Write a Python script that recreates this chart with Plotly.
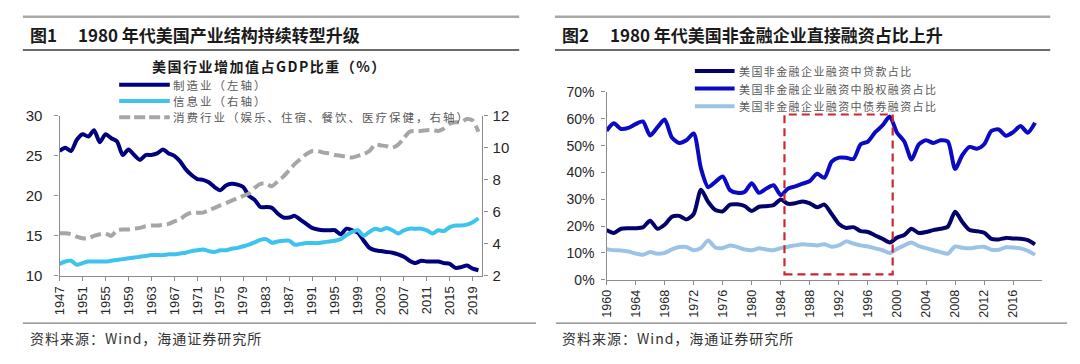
import plotly.graph_objects as go

W, H = 1080, 364

# ---------------- Chart 1 data ----------------
years1 = list(range(1947, 2021))
manufacturing = [25.6, 26.0, 25.6, 27.0, 27.7, 27.4, 28.2, 26.7, 27.7, 27.2,
                 26.8, 25.1, 25.8, 25.1, 24.5, 25.1, 25.1, 25.3, 25.8, 25.3,
                 25.0, 24.3, 23.3, 22.6, 22.1, 22.0, 21.7, 21.1, 20.7, 21.3,
                 21.5, 21.4, 21.1, 20.0, 19.5, 18.6, 18.6, 18.5, 17.8, 17.3,
                 17.3, 17.5, 17.0, 16.5, 16.0, 15.8, 15.7, 15.7, 15.7, 15.2,
                 15.9, 15.7, 15.4, 14.4, 13.5, 13.2, 13.1, 13.0, 12.9, 12.7,
                 12.4, 11.9, 11.6, 11.9, 11.8, 11.8, 11.8, 11.6, 11.5, 11.0,
                 11.1, 11.3, 10.9, 10.7]
information = [2.75, 2.9, 2.95, 2.7, 2.8, 2.9, 2.9, 2.9, 2.9, 2.95,
               3.0, 3.05, 3.1, 3.15, 3.2, 3.25, 3.3, 3.3, 3.3, 3.35,
               3.35, 3.4, 3.45, 3.55, 3.6, 3.65, 3.55, 3.5, 3.6, 3.6,
               3.7, 3.75, 3.85, 3.95, 4.1, 4.25, 4.3, 4.07, 4.15, 4.2,
               4.2, 3.95, 4.0, 4.05, 4.05, 4.05, 4.1, 4.15, 4.2, 4.3,
               4.55, 4.75, 4.85, 4.5, 4.75, 4.95, 4.85, 5.0, 4.85, 4.65,
               4.85, 4.95, 4.95, 4.95, 4.85, 4.65, 4.85, 4.8, 5.05, 5.15,
               5.15, 5.2, 5.35, 5.6]
consumer = [4.66, 4.66, 4.6, 4.45, 4.35, 4.35, 4.5, 4.6, 4.65, 4.5,
            4.85, 4.9, 4.9, 4.95, 5.0, 5.1, 5.15, 5.15, 5.2, 5.25,
            5.4, 5.55, 5.8, 5.95, 5.95, 5.95, 6.1, 6.25, 6.4, 6.55,
            6.7, 6.85, 7.0, 7.15, 7.5, 7.75, 7.75, 7.6, 7.9, 8.2,
            8.6, 9.0, 9.3, 9.6, 9.8, 9.8, 9.7, 9.65, 9.55, 9.5,
            9.45, 9.4, 9.5, 9.6, 9.8, 10.2, 10.15, 10.1, 10.0, 10.2,
            10.6, 11.0, 11.05, 11.05, 11.1, 11.1, 11.05, 11.2, 11.5, 11.6,
            11.6, 11.8, 11.7, 11.0]
names1 = ["制造业（左轴）", "信息业（右轴）", "消费行业（娱乐、住宿、餐饮、医疗保健，右轴）"]
xticks1 = list(range(1947, 2020, 4))
left_ticks1 = [10, 15, 20, 25, 30]
right_ticks1 = [2, 4, 6, 8, 10, 12]

# ---------------- Chart 2 data ----------------
years2 = list(range(1960, 2020))
loan = [18.5, 17.4, 19.0, 19.2, 19.2, 19.5, 22.0, 19.0, 20.5, 23.5,
        23.8, 22.5, 24.5, 33.5, 29.0, 26.0, 25.5, 28.0, 28.1, 27.5,
        25.6, 27.2, 27.4, 27.8, 29.9, 28.3, 28.5, 29.2, 28.5, 27.0,
        28.0, 24.5, 20.8, 19.3, 19.6, 18.1, 17.8, 16.5, 15.3, 13.9,
        15.7, 16.7, 19.0, 17.4, 17.8, 18.5, 19.0, 19.8, 25.3, 21.5,
        18.5, 18.1, 17.5, 15.2, 15.0, 15.6, 15.4, 15.3, 14.8, 13.2]
equity = [55.5, 58.3, 56.2, 56.6, 58.0, 59.0, 53.8, 56.8, 59.7, 53.0,
          51.0, 52.0, 54.5, 41.5, 34.5, 36.5, 38.5, 33.4, 32.4, 32.7,
          36.0, 32.4, 34.0, 35.2, 31.5, 34.0, 34.8, 35.8, 36.8, 39.5,
          38.0, 44.0, 45.5, 45.5, 45.0, 50.5, 51.5, 55.0, 57.5, 60.8,
          54.8, 51.5, 44.8, 50.5, 52.0, 51.0, 52.0, 51.5, 41.3, 46.5,
          49.5, 48.8, 50.5, 55.5, 56.0, 53.7, 55.0, 57.3, 54.8, 58.5]
bond = [11.4, 11.0, 10.9, 10.5, 9.8, 9.3, 10.3, 9.7, 10.0, 11.3,
        12.2, 12.2, 11.0, 11.8, 14.6, 12.0, 11.8, 12.8, 12.2, 11.3,
        11.0, 11.7, 11.3, 11.0, 11.8, 12.3, 12.8, 13.2, 13.0, 12.8,
        13.2, 12.3, 12.8, 14.3, 13.5, 12.8, 12.4, 11.7, 11.0, 10.0,
        11.5, 12.8, 13.9, 12.5, 11.8, 11.0, 10.3, 9.7, 12.4, 11.9,
        11.7, 12.1, 12.3, 11.2, 11.2, 12.1, 12.0, 11.7, 10.8, 9.3]
names2 = ["美国非金融企业融资中贷款占比", "美国非金融企业融资中股权融资占比", "美国非金融企业融资中债券融资占比"]
xticks2 = list(range(1960, 2017, 4))
yticks2 = [0, 10, 20, 30, 40, 50, 60, 70]
box_years = [1984.5, 1999.4]
box_pct = [2, 61.6]

# ---------------- styles ----------------
CJK = "Noto Sans CJK SC, Liberation Sans, sans-serif"
NUM = "Liberation Sans, Arial, sans-serif"
c_manu, c_info, c_cons = "#00007E", "#3EC3EE", "#A6A6A6"
c_loan, c_eq, c_bond = "#03036A", "#0A0AC4", "#9CC3E6"
axis_col = "#8C8C8C"


def px(x):
    return x / W


def py(y):
    return 1 - y / H


def line(x, y, name, color, xa, ya, dash=None):
    return go.Scatter(x=x, y=y, name=name, mode="lines", xaxis=xa, yaxis=ya, showlegend=False,
                      line=dict(color=color, width=4, dash=dash, shape="spline", smoothing=0.7))


fig = go.Figure()
fig.add_trace(line(years1, manufacturing, names1[0], c_manu, "x", "y"))
fig.add_trace(line(years1, information, names1[1], c_info, "x", "y2"))
fig.add_trace(line(years1, consumer, names1[2], c_cons, "x", "y2", dash="11px,5px"))
fig.add_trace(line(years2, bond, names2[2], c_bond, "x2", "y3"))
fig.add_trace(line(years2, equity, names2[1], c_eq, "x2", "y3"))
fig.add_trace(line(years2, loan, names2[0], c_loan, "x2", "y3"))

axis_common = dict(showgrid=False, zeroline=False, showline=True, linecolor=axis_col, linewidth=1.3,
                   ticks="outside", ticklen=4, tickcolor=axis_col, tickwidth=1.2)

fig.update_layout(
    width=W, height=H, margin=dict(l=0, r=0, t=0, b=0),
    paper_bgcolor="white", plot_bgcolor="white",
    xaxis=dict(domain=[px(52), px(478)], range=[1947, 2020.7], tickvals=xticks1,
               ticktext=[str(v) for v in xticks1], tickangle=-90,
               tickfont=dict(family=NUM, size=13, color="#262626"), anchor="y", **axis_common),
    yaxis=dict(domain=[py(280), py(112)], range=[10, 30], tickvals=left_ticks1, ticklabelstandoff=9,
               tickfont=dict(family=NUM, size=15, color="#262626"), anchor="x", **axis_common),
    yaxis2=dict(domain=[py(280), py(112)], range=[2, 12], tickvals=right_ticks1, overlaying="y",
                side="right", anchor="x", ticklabelstandoff=2,
                tickfont=dict(family=NUM, size=15, color="#262626"), **axis_common),
    xaxis2=dict(domain=[px(603), px(1042)], range=[1960, 2020], tickvals=xticks2,
                ticktext=[str(v) for v in xticks2], tickangle=-90,
                tickfont=dict(family=NUM, size=12.5, color="#262626"), anchor="y3", **axis_common),
    yaxis3=dict(domain=[py(284), py(87)], range=[0, 70], tickvals=yticks2, ticklabelstandoff=4,
                ticktext=[f"{v}%" for v in yticks2],
                tickfont=dict(family=NUM, size=14, color="#262626"), anchor="x2", **axis_common),
)

shapes = []
for x0, x1 in [(15, 515), (551, 1050)]:
    shapes.append(dict(type="line", xref="paper", yref="paper", x0=px(x0), x1=px(x1),
                       y0=py(8), y1=py(8), line=dict(color="#A8A8A8", width=2.5)))
    shapes.append(dict(type="line", xref="paper", yref="paper", x0=px(x0), x1=px(x1),
                       y0=py(43), y1=py(43), line=dict(color="#3A3A3A", width=1.5)))
for x0, x1 in [(15, 532), (552, 1067)]:
    shapes.append(dict(type="line", xref="paper", yref="paper", x0=px(x0), x1=px(x1),
                       y0=py(329.5), y1=py(329.5), line=dict(color="#7F7F7F", width=1.3)))

shapes.append(dict(type="rect", xref="x2", yref="y3", x0=box_years[0], x1=box_years[1],
                   y0=box_pct[0], y1=box_pct[1], line=dict(color="#C8282E", width=2.2, dash="8px,5px"),
                   fillcolor="rgba(0,0,0,0)"))

leg1_rows = [79.5, 96.5, 113.5]
leg1_styles = [dict(color=c_manu, width=4), dict(color=c_info, width=4),
               dict(color=c_cons, width=4, dash="11px,4px")]
for yy, st in zip(leg1_rows, leg1_styles):
    shapes.append(dict(type="line", xref="paper", yref="paper", x0=px(112), x1=px(163),
                       y0=py(yy), y1=py(yy), line=st))
leg2_rows = [65, 83.5, 102]
leg2_styles = [dict(color=c_loan, width=4), dict(color=c_eq, width=4), dict(color=c_bond, width=4)]
for yy, st in zip(leg2_rows, leg2_styles):
    shapes.append(dict(type="line", xref="paper", yref="paper", x0=px(692), x1=px(732),
                       y0=py(yy), y1=py(yy), line=st))
fig.update_layout(shapes=shapes)

ann = []


def text(x, y, s, size, color="#1A1A1A", anchor="left", family=CJK, spacing=0):
    if spacing:
        s = f'<span style="letter-spacing:{spacing}px">{s}</span>'
    ann.append(dict(xref="paper", yref="paper", x=px(x), y=py(y), text=s, showarrow=False,
                    xanchor=anchor, yanchor="middle", borderpad=0,
                    font=dict(family=family, size=size, color=color)))


text(21, 27, "<b>图1\u3000 1980 年代美国产业结构持续转型升级</b>", 17)
text(557, 27, "<b>图2\u3000 1980 年代美国非金融企业直接融资占比上升</b>", 17)
text(263, 60, "<b>美国行业增加值占GDP比重（%）</b>", 14, anchor="center", spacing=1.5)
for yy, nm in zip(leg1_rows, names1):
    text(165, yy, nm, 11.5, color="#595959", spacing=2)
for yy, nm in zip(leg2_rows, names2):
    text(735, yy, nm, 11, color="#595959", spacing=1.4)
text(21, 345, "资料来源：Wind，海通证券研究所", 14, color="#333333", spacing=1)
text(557, 345, "资料来源：Wind，海通证券研究所", 14, color="#333333", spacing=1)
fig.update_layout(annotations=ann)

fig.write_html("out.html", config={"displayModeBar": False},
               post_script="document.body.style.margin='0px';")
